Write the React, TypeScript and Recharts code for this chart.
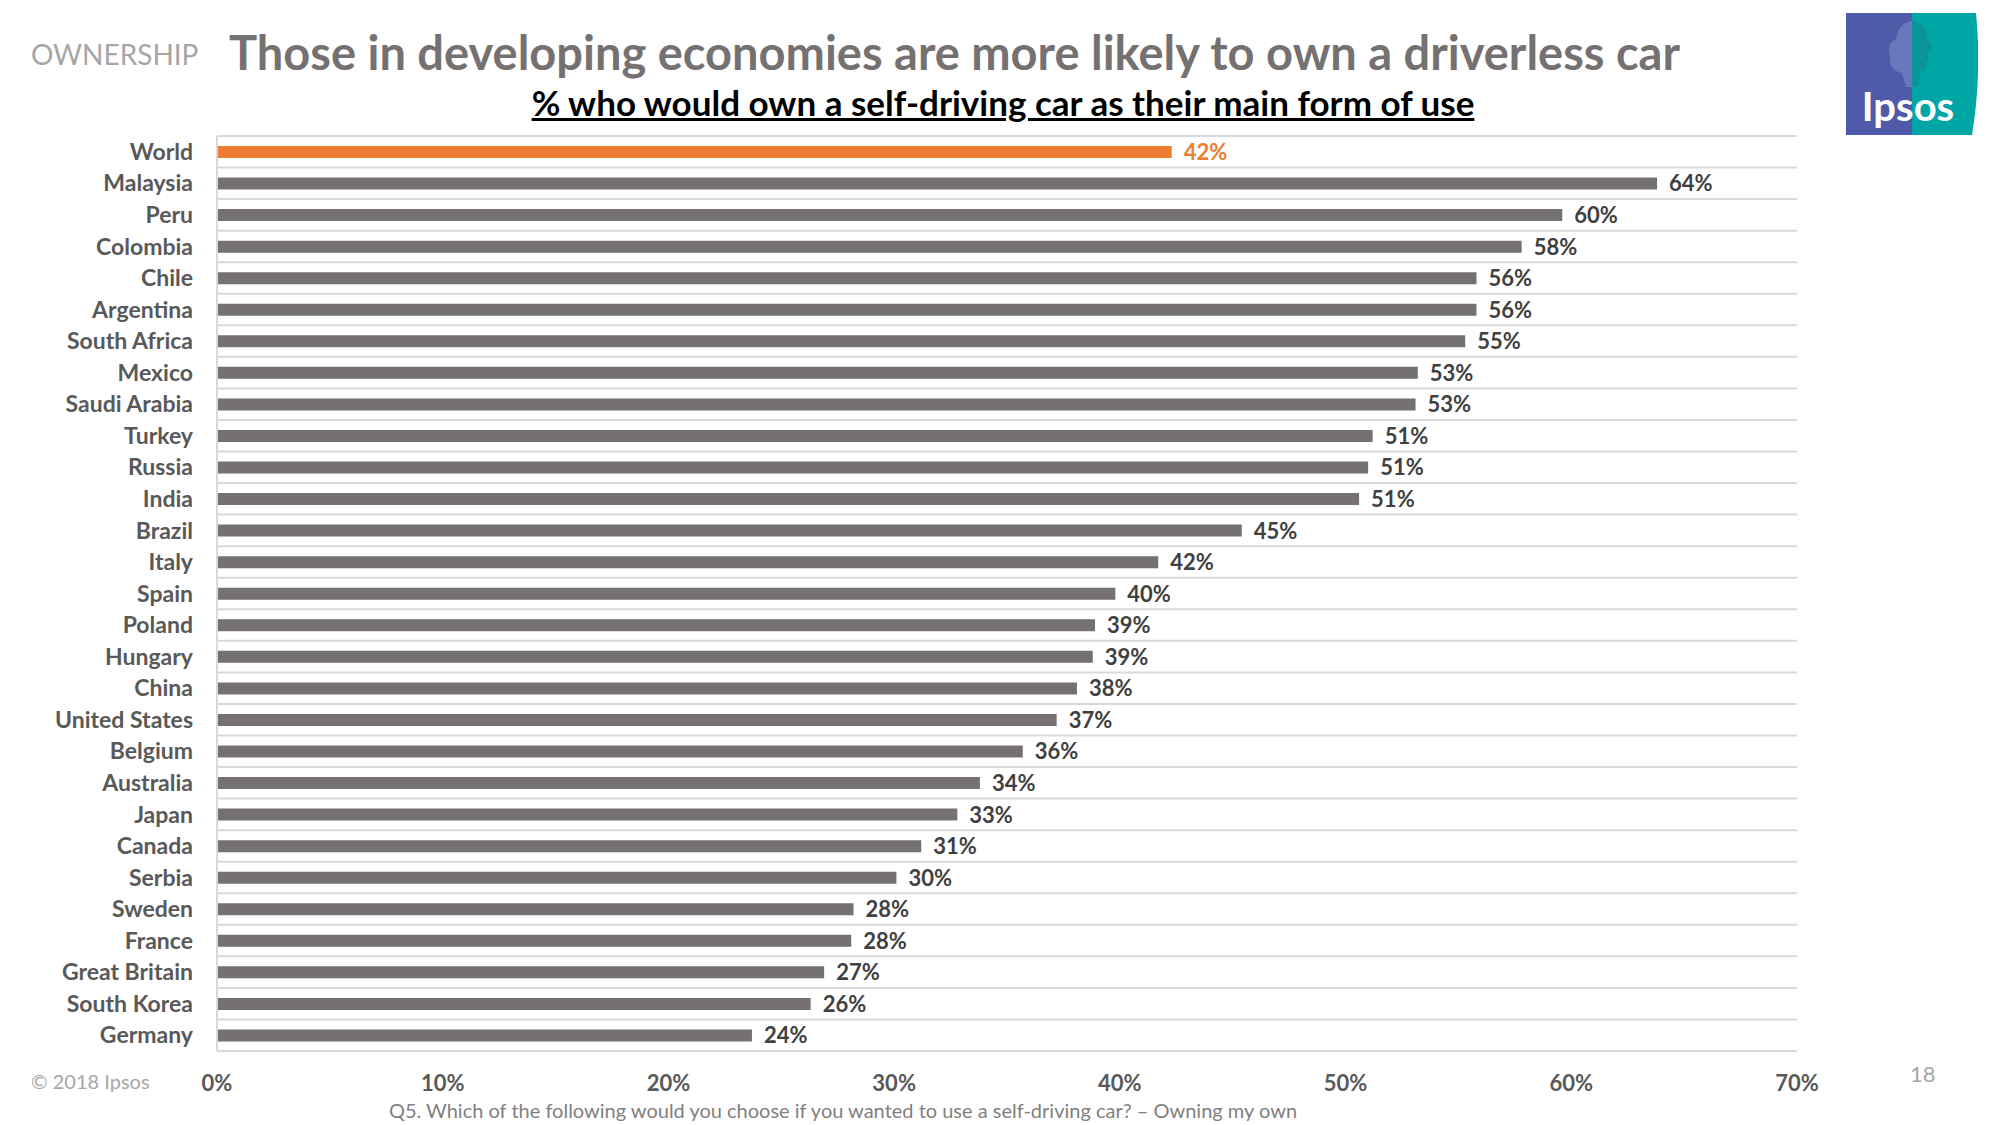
import React from "react";
import { BarChart, Bar, XAxis, YAxis, CartesianGrid, Cell, LabelList } from "recharts";

const countries: string[] = [
    "World", "Malaysia", "Peru", "Colombia", "Chile", "Argentina", "South Africa", "Mexico",
    "Saudi Arabia", "Turkey", "Russia", "India", "Brazil", "Italy", "Spain", "Poland", "Hungary",
    "China", "United States", "Belgium", "Australia", "Japan", "Canada", "Serbia", "Sweden",
    "France", "Great Britain", "South Korea", "Germany",
];

// bar lengths (labels show them rounded)
const ownShares: number[] = [
    42.3, 63.8, 59.6, 57.8, 55.8, 55.8, 55.3, 53.2, 53.1, 51.2, 51.0, 50.6, 45.4, 41.7, 39.8,
    38.9, 38.8, 38.1, 37.2, 35.7, 33.8, 32.8, 31.2, 30.1, 28.2, 28.1, 26.9, 26.3, 23.7,
];

const xTicks: number[] = [0, 10, 20, 30, 40, 50, 60, 70];

const FONT = "Lato, 'Open Sans', sans-serif";
const barGray = "#767171";
const worldOrange = "#ED7D31";
const gridGray = "#d9d9d9";

const data = countries.map((country, i) => ({ country, value: ownShares[i] }));

// grid lines sit between the rows, not through them
const rowBoundaries = (props: any) => {
    const { offset } = props;
    const step = offset.height / countries.length;
    const ys: number[] = [];
    for (let i = 0; i <= countries.length; i++) ys.push(offset.top + i * step);
    return ys;
};

const renderValueLabel = (props: any) => {
    const { x, y, width, height, value, index } = props;
    return (
        <text
            x={x + width + 12}
            y={y + height / 2}
            dy="0.36em"
            fontFamily={FONT}
            fontSize={22}
            fontWeight={700}
            fill={index === 0 ? worldOrange : "#404040"}
        >
            {Math.round(value)}%
        </text>
    );
};

const IpsosLogo = () => (
    <svg width={132} height={122} style={{ position: "absolute", left: 1846, top: 13 }}>
        <rect x={0} y={0} width={66} height={122} fill="#4F5BA8" />
        <path d="M66 0 H130 Q136 61 126 122 H66 Z" fill="#00A5A6" />
        <path
            d="M66 8 Q52 10 50 26 Q40 30 44 44 Q42 56 56 60 L60 74 L66 74 Z"
            fill="#6E80C0"
            opacity={0.8}
        />
        <path
            d="M66 8 Q80 10 82 26 L86 36 L82 38 Q84 46 80 50 Q82 56 74 58 L72 74 L66 74 Z"
            fill="#0E8F96"
            opacity={0.8}
        />
        <text x={62} y={108} textAnchor="middle" fontFamily={FONT} fontWeight={700} fontSize={40} fill="#fff">
            Ipsos
        </text>
    </svg>
);

export default function App() {
    return (
        <div
            style={{
                position: "absolute",
                left: 0,
                top: 0,
                width: 2000,
                height: 1125,
                background: "#fff",
                fontFamily: FONT,
                overflow: "hidden",
            }}
        >
            <div style={{ position: "absolute", left: 31, top: 37, fontSize: 28, color: "#a6a6a6" }}>OWNERSHIP</div>
            <div
                style={{
                    position: "absolute",
                    left: 229,
                    top: 24,
                    fontSize: 47,
                    fontWeight: 700,
                    color: "#767171",
                    whiteSpace: "nowrap",
                }}
            >
                Those in developing economies are more likely to own a driverless car
            </div>
            <div
                style={{
                    position: "absolute",
                    left: 0,
                    width: 2006,
                    top: 81,
                    textAlign: "center",
                    fontSize: 35,
                    fontWeight: 700,
                    color: "#000",
                    textDecoration: "underline",
                    textDecorationThickness: 3,
                    whiteSpace: "nowrap",
                }}
            >
                % who would own a self-driving car as their main form of use
            </div>
            <IpsosLogo />

            <div style={{ position: "absolute", left: 0, top: 0 }}>
                <BarChart
                    width={2000}
                    height={1125}
                    data={data}
                    layout="vertical"
                    margin={{ top: 136, right: 203, bottom: 34, left: 17 }}
                >
                    <CartesianGrid
                        vertical={false}
                        stroke={gridGray}
                        strokeWidth={2}
                        horizontalCoordinatesGenerator={rowBoundaries}
                    />
                    <XAxis
                        type="number"
                        domain={[0, 70]}
                        ticks={xTicks}
                        tickFormatter={(v) => `${v}%`}
                        axisLine={false}
                        tickLine={false}
                        tickMargin={18}
                        height={40}
                        tick={{ fill: "#595959", fontSize: 22, fontWeight: 700, fontFamily: FONT }}
                    />
                    <YAxis
                        type="category"
                        dataKey="country"
                        width={200}
                        interval={0}
                        axisLine={{ stroke: gridGray, strokeWidth: 2 }}
                        tickLine={false}
                        tickMargin={18}
                        tick={{ fill: "#595959", fontSize: 23, fontWeight: 700, fontFamily: FONT }}
                    />
                    <Bar dataKey="value" barSize={12} isAnimationActive={false}>
                        {data.map((d, i) => (
                            <Cell key={d.country} fill={i === 0 ? worldOrange : barGray} />
                        ))}
                        <LabelList dataKey="value" content={renderValueLabel} />
                    </Bar>
                </BarChart>
            </div>

            <div style={{ position: "absolute", left: 31, top: 1069, fontSize: 20, color: "#a6a6a6" }}>© 2018 Ipsos</div>
            <div style={{ position: "absolute", left: 1910, top: 1060, fontSize: 22, color: "#a6a6a6" }}>18</div>
            <div
                style={{
                    position: "absolute",
                    left: 0,
                    width: 1686,
                    top: 1098,
                    textAlign: "center",
                    fontSize: 20,
                    color: "#7f7f7f",
                    whiteSpace: "nowrap",
                }}
            >
                Q5. Which of the following would you choose if you wanted to use a self-driving car? – Owning my own
            </div>
        </div>
    );
}
